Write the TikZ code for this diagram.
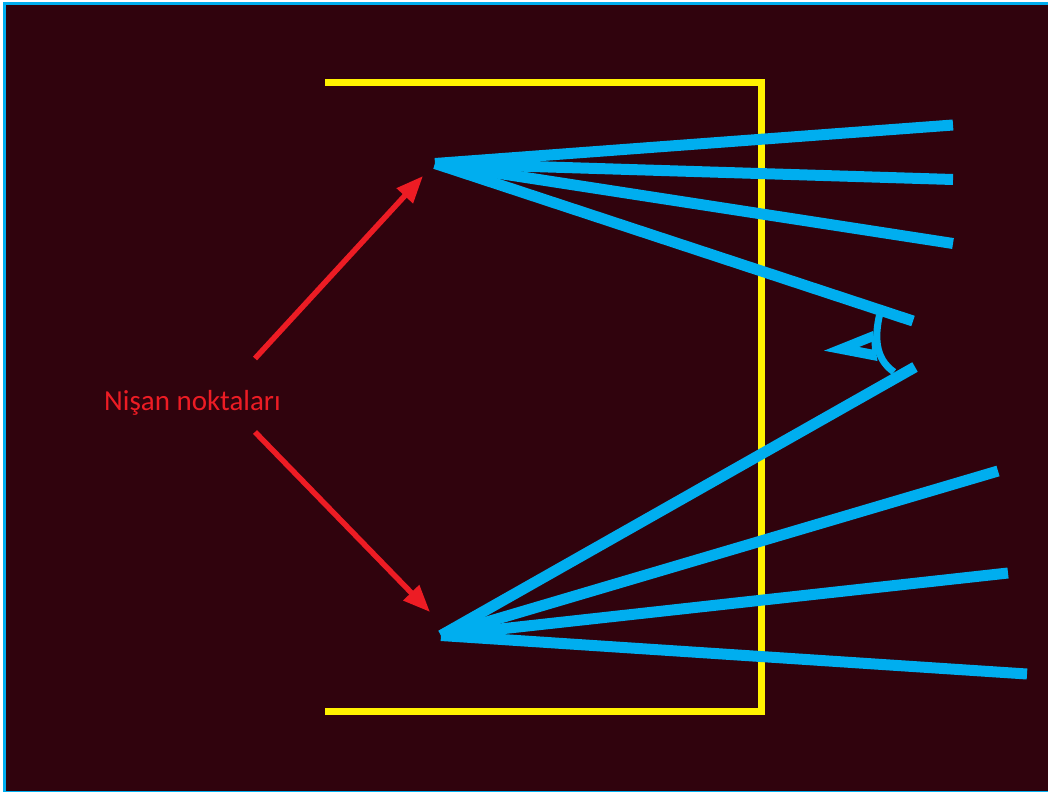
\documentclass[tikz,border=0pt]{standalone}
\usepackage{fontspec}
\setmainfont{Carlito}
\usetikzlibrary{arrows.meta}
\definecolor{bgdark}{HTML}{30030D}
\definecolor{rayblue}{HTML}{00AEEF}
\definecolor{wallyellow}{HTML}{FFF200}
\definecolor{markred}{HTML}{ED1C24}

\begin{document}
\begin{tikzpicture}[
  x=1pt, y=-1pt,
  wall/.style={draw=wallyellow, line width=7pt, miter limit=10},
  ray/.style={draw=rayblue, line width=11pt},
  lid/.style={draw=rayblue, line width=7pt},
  arr/.style={draw=markred, line width=5.5pt, -{Triangle[length=27pt,width=21pt]}},
  lbl/.style={text=markred, font=\fontsize{29}{34}\selectfont, inner sep=0pt}
]
  \useasboundingbox (0,0) rectangle (1048,792);
  \fill[white] (0,0) rectangle (1048,792);
  \fill[rayblue] (3,2) rectangle (1048,792);
  \fill[bgdark] (6,5) rectangle (1048,790.5);
  % cabin
  \coordinate (wallA) at (325,82.5);
  \coordinate (wallB) at (761.5,82.5);
  \coordinate (wallC) at (761.5,711);
  \coordinate (wallD) at (325,711);
  \draw[wall] (wallA) -- (wallB) -- (wallC) -- (wallD);
  % sight lines
  \coordinate (top) at (435,163.5);
  \coordinate (bottom) at (441,635.5);
  \coordinate (topA) at (953,125);
  \coordinate (topB) at (953,179.5);
  \coordinate (topC) at (953,243.5);
  \coordinate (topD) at (913,321);
  \coordinate (botA) at (915,367);
  \coordinate (botB) at (998,471);
  \coordinate (botC) at (1008,573);
  \coordinate (botD) at (1027,674);
  \foreach \e in {topA,topB,topC,topD}
    \draw[ray] (top) -- (\e);
  \foreach \e in {botA,botB,botC,botD}
    \draw[ray] (bottom) -- (\e);
  % eye
  \fill[rayblue, even odd rule] (824,350.7) -- (873,331) -- (877.5,361) -- cycle
    (859,347) -- (871.5,342) -- (872,349.5) -- cycle;
  \draw[lid] (879.5,315) .. controls (875,335) and (874,358) .. (894,372);
  % label and arrows
  \node[lbl] (label) at (192.5,403) {Nişan noktaları};
  \coordinate (fromA) at (255,358.5);
  \coordinate (toA) at (423,176);
  \coordinate (fromB) at (255,432);
  \coordinate (toB) at (430,612);
  \draw[arr] (fromA) -- (toA);
  \draw[arr] (fromB) -- (toB);
\end{tikzpicture}
\end{document}
